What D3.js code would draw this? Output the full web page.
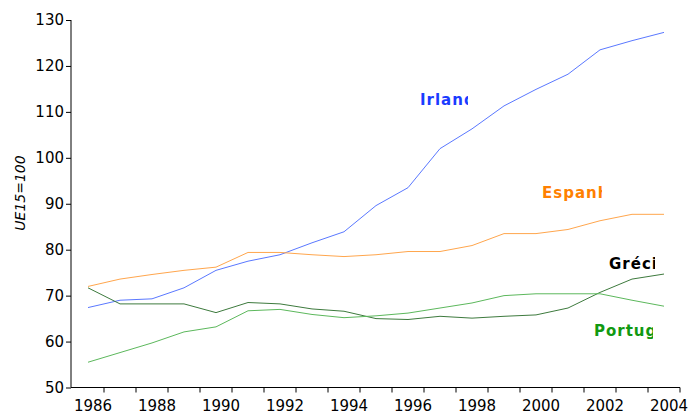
<!DOCTYPE html>
<html>
<head>
<meta charset="utf-8">
<script src="https://cdn.jsdelivr.net/npm/d3@7"></script>
<style>
  body { margin: 0; background: #fff; }
  svg { display: block; font-family: "DejaVu Sans", sans-serif; }
</style>
</head>
<body>
<svg></svg>
<script>
const years = d3.range(1986, 2005);
const yTicks = [50, 60, 70, 80, 90, 100, 110, 120, 130];

const irlanda = [67.4, 69.0, 69.3, 71.7, 75.5, 77.5, 78.9, 81.5, 83.9, 89.6, 93.5, 102.0, 106.3, 111.3, 114.9, 118.2, 123.5, 125.5, 127.3];
const espanha = [72.0, 73.6, 74.6, 75.5, 76.2, 79.4, 79.4, 78.9, 78.5, 78.9, 79.6, 79.6, 80.9, 83.5, 83.5, 84.4, 86.3, 87.7, 87.7];
const grecia = [71.7, 68.2, 68.2, 68.2, 66.3, 68.5, 68.2, 67.1, 66.6, 65.0, 64.8, 65.5, 65.1, 65.5, 65.8, 67.3, 70.7, 73.6, 74.7];
const portugal = [55.5, 57.6, 59.7, 62.1, 63.2, 66.7, 67.0, 65.9, 65.2, 65.6, 66.2, 67.3, 68.4, 70.0, 70.4, 70.4, 70.4, 69.0, 67.7];

const series = [
  { name: "Irlanda", values: irlanda, line: "#5a78ff", label: "#1a3cff", lx: 420, ly: 105, clip: 48 },
  { name: "Espanha", values: espanha, line: "#ffa64d", label: "#ff8000", lx: 542, ly: 198, clip: 60 },
  { name: "Grécia", values: grecia, line: "#3d7a3d", label: "#000000", lx: 609, ly: 269, clip: 46 },
  { name: "Portugal", values: portugal, line: "#5cb85c", label: "#119911", lx: 594, ly: 336, clip: 59 }
];

const width = 691, height = 414;
const svg = d3.select("svg").attr("width", width).attr("height", height);

const x = d3.scaleBand().domain(years).range([72, 680]);
const y = d3.scaleLinear().domain([50, 130]).range([387.5, 20]);

// y axis
const yAxis = svg.append("g")
  .attr("transform", "translate(71,0)")
  .call(d3.axisLeft(y).tickValues(yTicks).tickSize(5).tickPadding(2));
yAxis.selectAll("text").attr("font-size", 15).attr("fill", "#000").attr("font-family", "DejaVu Sans");
yAxis.selectAll("line, path").attr("stroke", "#000");
yAxis.select("path").attr("d", `M0,${y(130)}V${y(50)}`);

// x axis: ticks between categories, labels every other year
const xAxisG = svg.append("g").attr("transform", `translate(0,${y(50)})`);
xAxisG.append("line")
  .attr("x1", 71).attr("x2", 680)
  .attr("stroke", "#000");
xAxisG.selectAll(".tk")
  .data(years)
  .enter()
  .append("line")
  .attr("x1", d => x(d) + x.bandwidth())
  .attr("x2", d => x(d) + x.bandwidth())
  .attr("y1", 0)
  .attr("y2", 5)
  .attr("stroke", "#000");
xAxisG.selectAll(".lbl")
  .data(years.filter((d, i) => i % 2 === 0))
  .enter()
  .append("text")
  .attr("x", d => x(d) + x.bandwidth() / 2 + 5)
  .attr("y", 23)
  .attr("text-anchor", "middle")
  .attr("font-size", 15)
  .text(d => d);

// y title
svg.append("text")
  .attr("transform", "translate(25,193) rotate(-90)")
  .attr("text-anchor", "middle")
  .attr("font-size", 14)
  .attr("font-style", "italic")
  .text("UE15=100");

const line = d3.line()
  .x((d, i) => x(years[i]) + x.bandwidth() / 2)
  .y(d => y(d));

const defs = svg.append("defs");

series.forEach((s, k) => {
  svg.append("path")
    .attr("d", line(s.values))
    .attr("fill", "none")
    .attr("stroke", s.line)
    .attr("stroke-width", 1);

  defs.append("clipPath")
    .attr("id", "clip" + k)
    .append("rect")
    .attr("x", s.lx - 2)
    .attr("y", s.ly - 20)
    .attr("width", s.clip + 2)
    .attr("height", 28);

  svg.append("text")
    .attr("clip-path", `url(#clip${k})`)
    .attr("x", s.lx)
    .attr("y", s.ly)
    .attr("font-size", 15)
    .attr("font-weight", "bold")
    .attr("letter-spacing", 1)
    .attr("fill", s.label)
    .text(s.name);
});
</script>
</body>
</html>
